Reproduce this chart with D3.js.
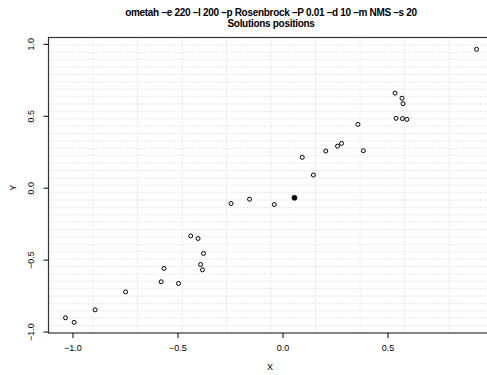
<!DOCTYPE html>
<html><head><meta charset="utf-8">
<script src="https://cdn.jsdelivr.net/npm/d3@7"></script>
<style>body{margin:0;background:#fff;}svg{display:block;font-family:"Liberation Sans",Arial,sans-serif;}</style>
</head><body>
<svg id="c" width="487" height="375"></svg>
<script>
const titleLines = ["ometah \u2013e 220 \u2013l 200 \u2013p Rosenbrock \u2013P 0.01 \u2013d 10 \u2013m NMS \u2013s 20", "Solutions positions"];
const xLabel = "X", yLabel = "Y";
const xTicks = [-1.0, -0.5, 0.0, 0.5];
const yTicks = [-1.0, -0.5, 0.0, 0.5, 1.0];
const ptsX = [0.924,0.536,0.569,0.574,0.541,0.571,0.592,0.359,0.385,0.281,0.262,0.206,0.094,0.147,-0.039,-0.157,-0.245,-0.437,-0.402,-0.376,-0.390,-0.381,-0.564,-0.578,-0.495,-0.747,-0.892,-1.033,-0.992];
const ptsY = [0.962,0.657,0.622,0.584,0.482,0.480,0.475,0.440,0.257,0.308,0.289,0.255,0.211,0.088,-0.117,-0.080,-0.110,-0.335,-0.353,-0.457,-0.534,-0.571,-0.561,-0.654,-0.666,-0.724,-0.849,-0.904,-0.936];
const bestX = [0.057], bestY = [-0.070];

const svg = d3.select("#c");
const L = 48.5, R = 493.5, T = 37.5, B = 333;
const x = d3.scaleLinear().domain([-1.114, 1.0045]).range([L, R]);
const y = d3.scaleLinear().domain([-1.01, 1.044]).range([B, T]);
const fmt = d => d3.format(".1f")(d).replace("-", "\u2212");

// grid
const g = svg.append("g");
d3.range(1, 10).forEach(i => {
  const gx = L + (R - L) * i / 10;
  g.append("line").attr("x1", gx).attr("x2", gx).attr("y1", T).attr("y2", B)
    .attr("stroke", "#d4d4d4").attr("stroke-width", 1).attr("stroke-dasharray", "1,2");
});
d3.range(1, 40).forEach(i => {
  const gy = T + (B - T) * i / 40;
  g.append("line").attr("x1", L).attr("x2", R).attr("y1", gy).attr("y2", gy)
    .attr("stroke", "#d4d4d4").attr("stroke-width", 1).attr("stroke-dasharray", "1,2");
});

// box
svg.append("rect").attr("x", L).attr("y", T).attr("width", R - L).attr("height", B - T)
  .attr("fill", "none").attr("stroke", "#333").attr("stroke-width", 1.2);

// axes
const ax = svg.append("g").attr("transform", `translate(0,${B})`)
  .call(d3.axisBottom(x).tickValues(xTicks).tickSize(5).tickPadding(7).tickFormat(fmt));
ax.select(".domain").remove();
ax.selectAll("text").attr("font-size", 9).attr("font-family", "Liberation Sans, Arial, sans-serif").attr("fill", "#000");
const ay = svg.append("g").attr("transform", `translate(${L},0)`)
  .call(d3.axisLeft(y).tickValues(yTicks).tickSize(5).tickFormat(fmt));
ay.select(".domain").remove();
ay.selectAll("text").attr("font-size", 9).attr("font-family", "Liberation Sans, Arial, sans-serif").attr("fill", "#000")
  .attr("text-anchor", "middle").attr("x", 0).attr("dy", 0)
  .attr("transform", "translate(-15,0) rotate(-90)");

// labels
svg.append("text").attr("x", (L + R) / 2 - 1).attr("y", 370).attr("text-anchor", "middle")
  .attr("font-size", 9).text(xLabel);
svg.append("text").attr("transform", `translate(16,${y(0)}) rotate(-90)`).attr("text-anchor", "middle")
  .attr("font-size", 9).text(yLabel);
titleLines.forEach((t, i) => {
  svg.append("text").attr("x", (L + R) / 2).attr("y", 16 + i * 11).attr("text-anchor", "middle")
    .attr("font-size", 10).attr("font-weight", "bold").attr("letter-spacing", -0.3).text(t);
});

// points
svg.append("g").selectAll("circle").data(ptsX.map((v, i) => [v, ptsY[i]])).join("circle")
  .attr("cx", d => x(d[0])).attr("cy", d => y(d[1])).attr("r", 2)
  .attr("fill", "none").attr("stroke", "#000").attr("stroke-width", 1);
svg.append("g").selectAll("circle").data(bestX.map((v, i) => [v, bestY[i]])).join("circle")
  .attr("cx", d => x(d[0])).attr("cy", d => y(d[1])).attr("r", 2.6)
  .attr("fill", "#000").attr("stroke", "#000").attr("stroke-width", 0.5);
</script>
</body></html>
